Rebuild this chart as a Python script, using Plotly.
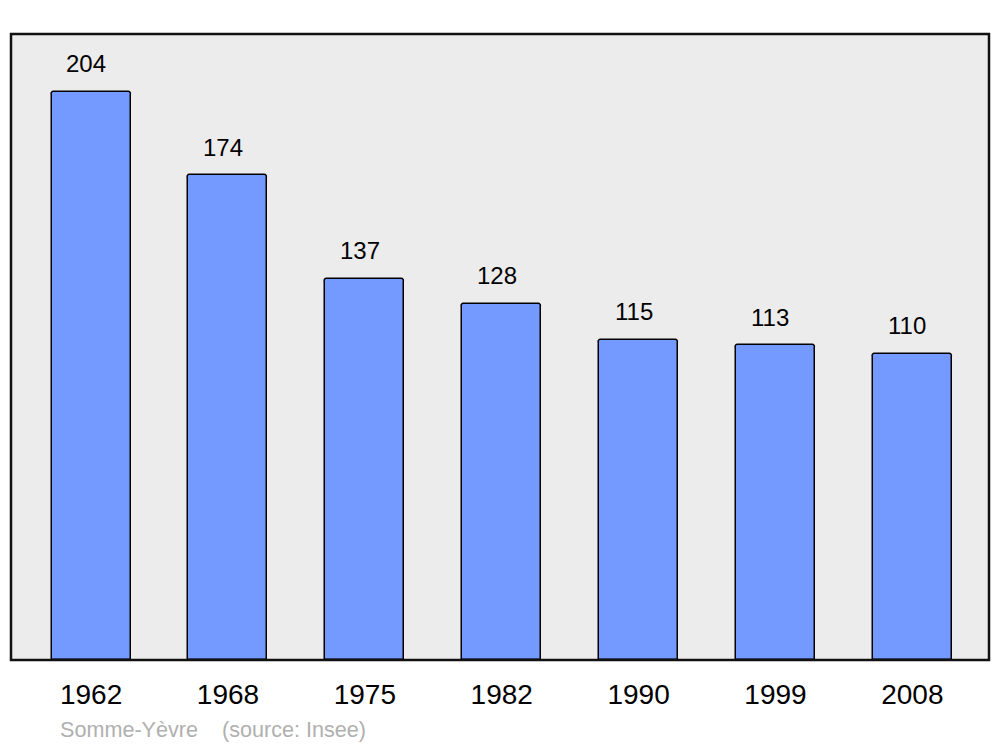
import plotly.graph_objects as go

years = ["1962", "1968", "1975", "1982", "1990", "1999", "2008"]
population = [204, 174, 137, 128, 115, 113, 110]
source_text = "Somme-Yèvre    (source: Insee)"

positions = list(range(len(years)))

fig = go.Figure()
fig.add_trace(go.Bar(
    x=positions, y=population, width=0.577,
    marker=dict(color="#7499ff", line=dict(color="black", width=1.5), cornerradius=3),
    hoverinfo="skip",
))

for p, v in zip(positions, population):
    fig.add_annotation(x=p, y=v, text=str(v), showarrow=False, xref="x", yref="y",
                       yanchor="middle", yshift=28, xshift=-5,
                       font=dict(size=24, color="black", family="Liberation Sans, Arial, sans-serif"))

fig.add_annotation(x=0.048, y=-0.1118, xref="paper", yref="paper", xanchor="left", yanchor="middle",
                   text=source_text, showarrow=False,
                   font=dict(size=21.6, color="#b0b0b0", family="Liberation Sans, Arial, sans-serif"))

fig.add_shape(type="rect", xref="paper", yref="paper", x0=0, x1=1, y0=0, y1=1,
              line=dict(color="#111111", width=2.5), fillcolor="rgba(0,0,0,0)", layer="above")

fig.update_layout(
    width=992, height=739,
    margin=dict(l=3, r=11, t=26, b=87),
    paper_bgcolor="white", plot_bgcolor="#ececec",
    showlegend=False,
    font=dict(family="Liberation Sans, Arial, sans-serif", color="black"),
    xaxis=dict(range=[-0.585, 6.56], tickvals=positions, ticktext=years, showgrid=False,
               zeroline=False, showline=False, ticks="", tickfont=dict(size=28, color="black"),
               ticklabelstandoff=15, fixedrange=True),
    yaxis=dict(range=[0, 224.8], showgrid=False, zeroline=False, showline=False,
               showticklabels=False, ticks="", fixedrange=True),
    bargap=0,
)

fig.write_html("out.html")
